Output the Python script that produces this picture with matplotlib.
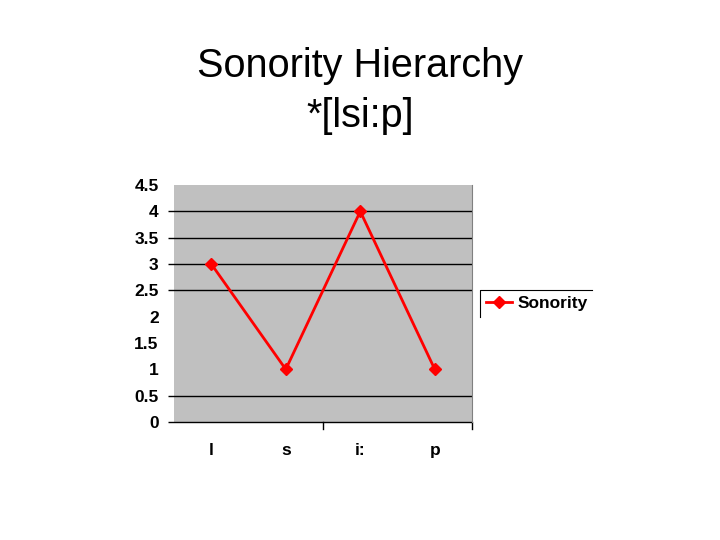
import matplotlib.pyplot as plt
from matplotlib.lines import Line2D

plt.rcParams["font.family"] = ["Liberation Sans", "DejaVu Sans"]

# data
segments = ["l", "s", "i:", "p"]
sonority = [3, 1, 4, 1]
y_ticks = [0, 0.5, 1, 1.5, 2, 2.5, 3, 3.5, 4, 4.5]
y_tick_labels = ["0", "0.5", "1", "1.5", "2", "2.5", "3", "3.5", "4", "4.5"]
grid_levels = [0.5, 2.5, 3, 3.5, 4]

fig = plt.figure(figsize=(7.2, 5.4), dpi=100)
ax = fig.add_axes([0.2417, 0.2185, 0.4139, 0.4389])
ax.set_facecolor("#c0c0c0")

x = list(range(len(segments)))
ax.set_xlim(-0.5, len(segments) - 0.5)
ax.set_ylim(0, 4.5)

# gridlines, sticking out a bit on the left like tick marks
ax.hlines(grid_levels + [0], -0.58, len(segments) - 0.5, color="black",
          linewidth=1, zorder=1, clip_on=False)

ax.plot(x, sonority, color="#ff0000", linewidth=2, marker="D",
        markersize=6, zorder=3)

ax.set_yticks(y_ticks)
ax.set_yticklabels(y_tick_labels, fontsize=12.5, fontweight="bold")
ax.set_xticks(x)
ax.set_xticklabels(segments, fontsize=12.5, fontweight="bold")
ax.tick_params(axis="y", length=0, pad=11)
ax.tick_params(axis="x", length=0, pad=15)
# boundary tick marks between categories
for b in [1.5, 3.5]:
    ax.plot([b, b], [0, -0.13], color="black", linewidth=1, clip_on=False)

for side in ["top", "left", "bottom"]:
    ax.spines[side].set_visible(False)
ax.spines["right"].set_color("#808080")

handle = Line2D([0], [0], color="#ff0000", linewidth=2, marker="D", markersize=6)
leg = fig.legend([handle], ["Sonority"], loc="center left",
                 bbox_to_anchor=(0.667, 0.438), frameon=False,
                 prop={"size": 12.5, "weight": "bold"}, handlelength=1.5,
                 borderpad=0.35, handletextpad=0.3, borderaxespad=0)

# only the top and left edges of the legend box show
fig.canvas.draw()
bb = leg.get_window_extent().transformed(fig.transFigure.inverted())
fig.add_artist(Line2D([bb.x0, bb.x0, bb.x1 - 0.003], [bb.y0, bb.y1, bb.y1],
                      color="black", linewidth=0.8))

fig.text(0.5, 0.877, "Sonority Hierarchy", ha="center", va="center", fontsize=28.5)
fig.text(0.5, 0.785, "*[lsi:p]", ha="center", va="center", fontsize=28.5)

fig.savefig("out.png", dpi=100)
